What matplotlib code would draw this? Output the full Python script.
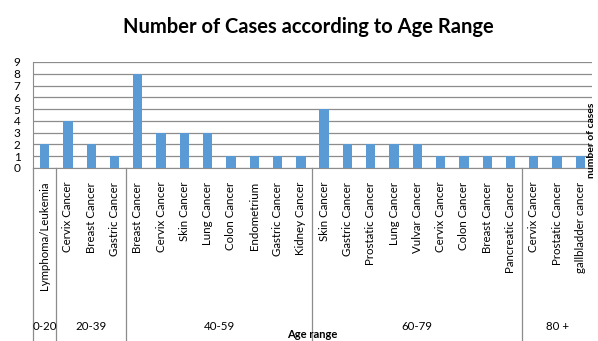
import matplotlib
matplotlib.use("Agg")
import matplotlib.pyplot as plt
import matplotlib.transforms as mtransforms

plt.rcParams['font.family'] = ['Lato', 'DejaVu Sans']

age_groups = ["0-20", "20-39", "40-59", "60-79", "80 +"]
cancers = [
    ["Lymphoma/Leukemia"],
    ["Cervix Cancer", "Breast Cancer", "Gastric Cancer"],
    ["Breast Cancer", "Cervix Cancer", "Skin Cancer", "Lung Cancer", "Colon Cancer",
     "Endometrium", "Gastric Cancer", "Kidney Cancer"],
    ["Skin Cancer", "Gastric Cancer", "Prostatic Cancer", "Lung Cancer", "Vulvar Cancer",
     "Cervix Cancer", "Colon Cancer", "Breast Cancer", "Pancreatic Cancer"],
    ["Cervix Cancer", "Prostatic Cancer", "gallbladder cancer"],
]
cases = [
    [2],
    [4, 2, 1],
    [8, 3, 3, 3, 1, 1, 1, 1],
    [5, 2, 2, 2, 2, 1, 1, 1, 1],
    [1, 1, 1],
]

labels = [c for grp in cancers for c in grp]
values = [v for grp in cases for v in grp]
x = list(range(len(values)))

fig = plt.figure(figsize=(5.98, 3.41), dpi=100)
ax = fig.add_axes([33 / 598, 1 - 168 / 341, (592 - 33) / 598, (168 - 62) / 341])

ax.bar(x, values, width=0.4, color="#5b9bd5", zorder=3)
ax.set_xlim(-0.5, len(values) - 0.5)
ax.set_ylim(0, 9)
ax.set_yticks(range(10))
ax.tick_params(axis='y', length=0, labelsize=8.5, pad=9)
ax.set_xticks([])
ax.grid(axis='y', color="#8c8c8c", linewidth=0.9, zorder=0)
for s in ["top", "right"]:
    ax.spines[s].set_visible(False)
ax.spines["bottom"].set_color("#8c8c8c")
ax.spines["left"].set_color("#8c8c8c")

trans = mtransforms.blended_transform_factory(ax.transData, ax.transAxes)
below = -(341 - 168) / (168 - 62)

# category names, rotated, under each bar
for xi, lab in zip(x, labels):
    ax.text(xi, -0.13, lab, rotation=90, ha="center", va="top", fontsize=8.3,
            transform=trans)

# group separators and group names
bounds = [-0.5]
for grp in cases:
    bounds.append(bounds[-1] + len(grp))
for b in bounds[:-1]:
    ax.plot([b, b], [0, below], color="#8c8c8c", linewidth=0.9, transform=trans,
            clip_on=False)
for i, g in enumerate(age_groups):
    mid = (bounds[i] + bounds[i + 1]) / 2
    ax.text(mid, -1.5, g, ha="center", va="center", fontsize=8.3, transform=trans)

ax.text(11.5, -1.57, "Age range", ha="center", va="center", fontsize=8,
        fontweight="bold", transform=trans)
fig.text(592 / 598, 1 - 140 / 341, "number of cases", rotation=90, ha="center",
         va="center", fontsize=7.5, fontweight="bold")

fig.text(308 / 598, 1 - 27 / 341, "Number of Cases according to Age Range",
         ha="center", va="center", fontsize=14.5, fontweight="bold")

fig.savefig("out.png", dpi=100)
